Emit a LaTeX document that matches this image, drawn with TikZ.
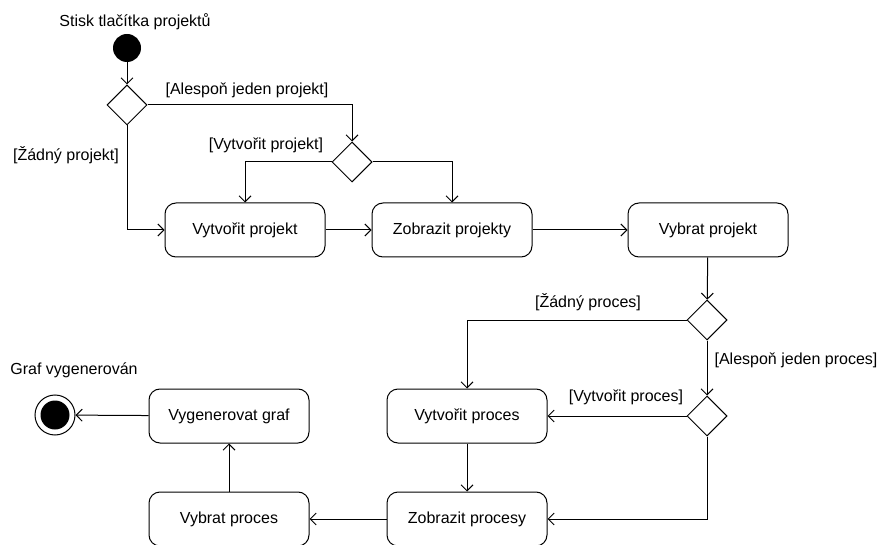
\documentclass[tikz,border=0pt]{standalone}
\usepackage{fontspec}
\setmainfont{Liberation Sans}
\usetikzlibrary{arrows.meta,shapes.geometric}

\tikzset{
  action/.style={draw, rounded corners=11pt, minimum width=160pt, minimum height=54pt,
                 inner sep=0pt, font=\fontsize{16}{19}\selectfont},
  decision/.style={draw, diamond, minimum width=40pt, minimum height=40pt, inner sep=0pt},
  guard/.style={font=\fontsize{16}{19}\selectfont, inner sep=0pt},
  flow/.style={draw, line width=1pt, -{Straight Barb[length=6pt,width=12pt,line width=1pt]}},
}

\begin{document}
\begin{tikzpicture}[x=1pt, y=-1pt, line width=1pt]
  \useasboundingbox (0,0) rectangle (880,545);

  % initial and final states
  \node[circle, fill=black, minimum size=28pt, inner sep=0pt] (start) at (127,48) {};
  \node[guard] (startlab) at (135,22) {Stisk tlačítka projektů};

  \node[circle, draw, fill=white, minimum size=40pt, inner sep=0pt] (finish) at (55,415) {};
  \node[circle, fill=black, minimum size=29pt, inner sep=0pt] (finishdot) at (finish.center) {};
  \node[guard] (finishlab) at (74,370) {Graf vygenerován};

  % decisions
  \node[decision] (d1) at (127,105) {};
  \node[decision] (d2) at (352,162) {};
  \node[decision] (d3) at (707,320) {};
  \node[decision] (d4) at (707,416) {};

  % actions
  \node[action] (vp)  at (245,230) {Vytvořit projekt};
  \node[action] (zp)  at (452,230) {Zobrazit projekty};
  \node[action] (vyp) at (708,230) {Vybrat projekt};
  \node[action] (vpr) at (467,416) {Vytvořit proces};
  \node[action] (zpr) at (467,519) {Zobrazit procesy};
  \node[action] (vbp) at (229,519) {Vybrat proces};
  \node[action] (vg)  at (229,416) {Vygenerovat graf};

  % guards
  \node[guard] (g1) at (247,90)  {[Alespoň jeden projekt]};
  \node[guard] (g2) at (66,155)  {[Žádný projekt]};
  \node[guard] (g3) at (266,145) {[Vytvořit projekt]};
  \node[guard] (g4) at (588,302) {[Žádný proces]};
  \node[guard] (g5) at (796,360) {[Alespoň jeden proces]};
  \node[guard] (g6) at (626,397) {[Vytvořit proces]};

  % control flow
  \draw[flow] (start) -- (d1);
  \draw[flow] (d1.east) -| (d2.north);
  \draw[flow] (d1.south) |- (vp.west);
  \draw[flow] (d2.west) -| (vp.north);
  \draw[flow] (d2.east) -| (zp.north);
  \draw[flow] (vp) -- (zp);
  \draw[flow] (zp) -- (vyp);
  \draw[flow] (vyp) -- (d3);
  \draw[flow] (d3.west) -| (vpr.north);
  \draw[flow] (d3) -- (d4);
  \draw[flow] (d4) -- (vpr);
  \draw[flow] (d4.south) |- (zpr.east);
  \draw[flow] (vpr) -- (zpr);
  \draw[flow] (zpr) -- (vbp);
  \draw[flow] (vbp) -- (vg);
  \draw[flow] (vg) -- (finish);
\end{tikzpicture}
\end{document}
